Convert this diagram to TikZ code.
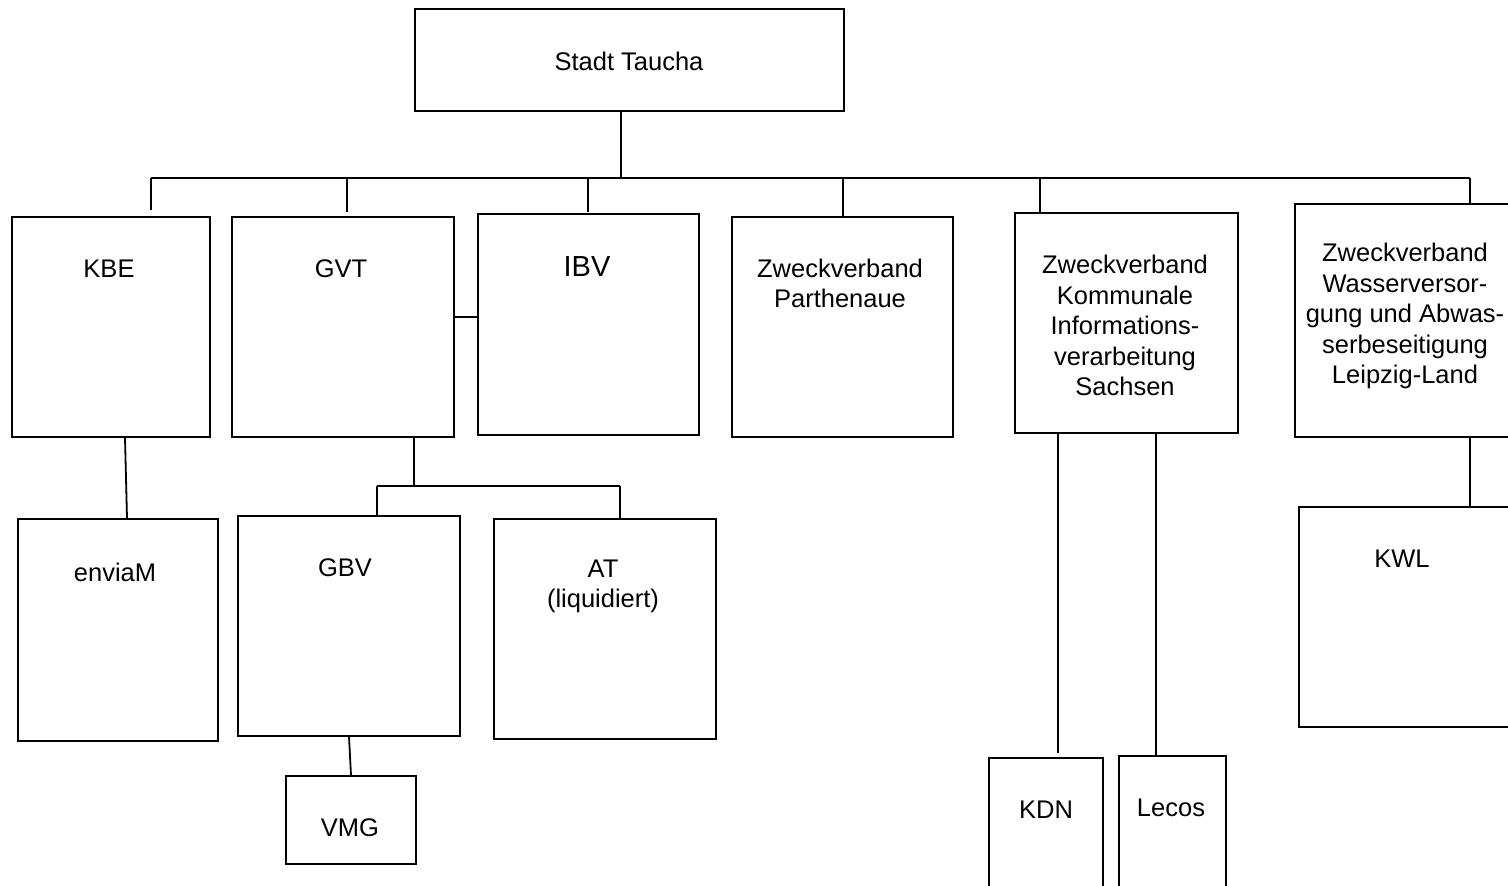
\documentclass[tikz,border=0pt]{standalone}
\usepackage{fontspec}
\setmainfont{Liberation Sans}
\usetikzlibrary{calc}
\begin{document}
\begin{tikzpicture}[x=1pt,y=-1pt,
  box/.style={draw, line width=1.8pt, inner sep=0pt, anchor=north west},
  conn/.style={line width=1.8pt},
  lbl/.style={font=\fontsize{25.5}{30.5}\selectfont, align=center, inner sep=0pt}]
\useasboundingbox (0,0) rectangle (1508,886);
\clip (0,0) rectangle (1508,886);
\fill[white] (0,0) rectangle (1508,886);
% boxes
\node[box, minimum width=429pt, minimum height=102pt] (top) at (414,8) {};
\node[box, minimum width=198pt, minimum height=220pt] (kbe) at (11,216) {};
\node[box, minimum width=222pt, minimum height=220pt] (gvt) at (231,216) {};
\node[box, minimum width=221pt, minimum height=221pt] (ibv) at (477,213) {};
\node[box, minimum width=221pt, minimum height=220pt] (zvp) at (731,216) {};
\node[box, minimum width=223pt, minimum height=220pt] (zkis) at (1014,212) {};
\node[box, minimum width=240pt, minimum height=233pt] (zwa) at (1294,203) {};
\node[box, minimum width=200pt, minimum height=222pt] (envia) at (17,518) {};
\node[box, minimum width=222pt, minimum height=220pt] (gbv) at (237,515) {};
\node[box, minimum width=222pt, minimum height=220pt] (at) at (493,518) {};
\node[box, minimum width=130pt, minimum height=88pt] (vmg) at (285,775) {};
\node[box, minimum width=240pt, minimum height=220pt] (kwl) at (1298,506) {};
\node[box, minimum width=114pt, minimum height=150pt] (kdn) at (988,757) {};
\node[box, minimum width=107pt, minimum height=150pt] (lecos) at (1118,755) {};
% labels
\node[lbl] (ttop) at (629,61) {Stadt Taucha};
\node[lbl] (tkbe) at (109,269) {KBE};
\node[lbl] (tgvt) at (341,269) {GVT};
\node[lbl, font=\fontsize{29}{34}\selectfont] (tibv) at (587,267) {IBV};
\node[lbl] (tzvp) at (840,283.5) {Zweckverband\\Parthenaue};
\node[lbl] (tzkis) at (1125,325.5) {Zweckverband\\Kommunale\\Informations-\\verarbeitung\\Sachsen};
\node[lbl] (tzwa) at (1405,316) {Zweckverband\\Wasserversor-\\gung und Abwas-\\serbeseitigung\\Leipzig-Land};
\node[lbl] (tenvia) at (115,572) {enviaM};
\node[lbl] (tgbv) at (345,568) {GBV};
\node[lbl] (tat) at (603,586.5) {AT\\(liquidiert)};
\node[lbl] (tkwl) at (1402,559) {KWL};
\node[lbl] (tvmg) at (350,828) {VMG};
\node[lbl] (tkdn) at (1046,810) {KDN};
\node[lbl] (tlecos) at (1171,808) {Lecos};
% bus
\coordinate (bus) at (621,178);
\coordinate (d1) at (151,178);
\coordinate (d2) at (347,178);
\coordinate (d3) at (588,178);
\coordinate (d4) at (843,178);
\coordinate (d5) at (1040,178);
\coordinate (d6) at (1470,178);
\draw[conn] (top.south -| bus) -- (bus);
\draw[conn] (d1) -- (d6);
\draw[conn] (d1) -- ($(kbe.north -| d1)+(0,-6)$);
\draw[conn] (d2) -- ($(gvt.north -| d2)+(0,-4)$);
\draw[conn] (d3) -- ($(ibv.north -| d3)+(0,-1)$);
\draw[conn] (d4) -- (zvp.north -| d4);
\draw[conn] (d5) -- (zkis.north -| d5);
\draw[conn] (d6) -- (zwa.north -| d6);
% GVT - IBV
\draw[conn] ($(gvt.east)+(0,-10)$) -- ($(gvt.east -| ibv.west)+(0,-10)$);
% KBE - enviaM
\draw[conn] ($(kbe.south west)+(114,0)$) -- ($(envia.north west)+(110,0)$);
% GVT subtree
\coordinate (g) at (414,486);
\coordinate (gL) at (377,486);
\coordinate (gR) at (620,486);
\draw[conn] (gvt.south -| g) -- (g);
\draw[conn] (gL) -- (gR);
\draw[conn] (gL) -- (gbv.north -| gL);
\draw[conn] (gR) -- (at.north -| gR);
% GBV - VMG
\draw[conn] ($(gbv.south west)+(112,0)$) -- ($(vmg.north west)+(66,0)$);
% ZKIS - KDN, Lecos
\draw[conn] ($(zkis.south west)+(44,0)$) -- ($(kdn.north west)+(70,-4)$);
\draw[conn] ($(zkis.south west)+(142,0)$) -- ($(lecos.north west)+(38,0)$);
% ZWA - KWL
\draw[conn] (zwa.south -| d6) -- (kwl.north -| d6);
\end{tikzpicture}
\end{document}
